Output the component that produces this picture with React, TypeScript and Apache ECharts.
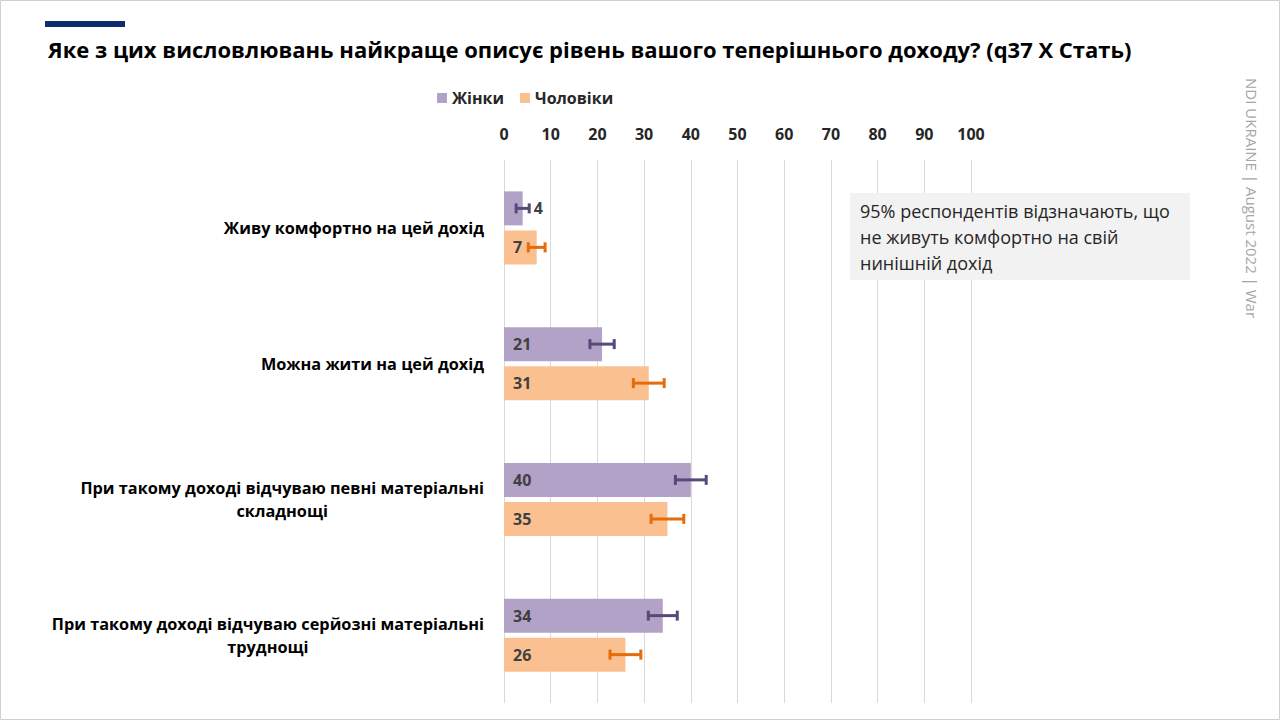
import React, { useEffect, useRef } from "react";
import * as echarts from "echarts";

const categories = [
  "Живу комфортно на цей дохід",
  "Можна жити на цей дохід",
  "При такому доході відчуваю певні матеріальні\nскладнощі",
  "При такому доході відчуваю серйозні матеріальні\nтруднощі",
];
const seriesNames = ["Жінки", "Чоловіки"];
const women = [4, 21, 40, 34];
const men = [7, 31, 35, 26];
const womenErr = [1.4, 2.6, 3.3, 3.1];
const menErr = [1.8, 3.3, 3.5, 3.3];
const xTicks = { min: 0, max: 100, interval: 10 };

const titleText =
  "Яке з цих висловлювань найкраще описує рівень вашого теперішнього доходу? (q37 X Стать)";
const noteLines = [
  "95% респондентів відзначають, що",
  "не живуть комфортно на свій",
  "нинішній дохід",
];
const sideText = "NDI UKRAINE | August 2022 | War";

const FONT = "'Open Sans', 'Noto Sans', sans-serif";
const BAR_W = 34;
const BAR_GAP = 5;

export default function App() {
  const ref = useRef<HTMLDivElement>(null);
  useEffect(() => {
    if (!ref.current) return;
    const chart = echarts.init(ref.current, undefined, { renderer: "svg" });

    const errSeries = (vals: number[], errs: number[], offset: number, color: string, lw: number) => ({
      type: "custom",
      silent: true,
      z: 5,
      data: vals.map((v, i) => [i, v, errs[i]]),
      renderItem: (params: any, api: any) => {
        const i = api.value(0);
        const v = api.value(1);
        const e = api.value(2);
        const p1 = api.coord([v - e, i]);
        const p2 = api.coord([v + e, i]);
        const y = p1[1] + offset;
        const cap = 5;
        const style = { stroke: color, lineWidth: lw };
        return {
          type: "group",
          children: [
            { type: "line", shape: { x1: p1[0], y1: y, x2: p2[0], y2: y }, style },
            { type: "line", shape: { x1: p1[0], y1: y - cap, x2: p1[0], y2: y + cap }, style },
            { type: "line", shape: { x1: p2[0], y1: y - cap, x2: p2[0], y2: y + cap }, style },
          ],
        };
      },
    });

    const barLabel = {
      show: true,
      position: "insideLeft",
      distance: 9,
      color: "#404040",
      fontWeight: "bold",
      fontSize: 16,
      fontFamily: FONT,
    };

    const mkData = (vals: number[]) =>
      vals.map((v) => (v < 5 ? { value: v, label: { position: "right", distance: 11 } } : v));

    const off = (BAR_W + BAR_GAP) / 2;

    chart.setOption({
      animation: false,
      textStyle: { fontFamily: FONT },
      title: {
        text: titleText,
        left: 43,
        top: 33,
        textStyle: { fontFamily: FONT, fontWeight: "bold", fontSize: 22, color: "#000" },
      },
      legend: {
        data: seriesNames,
        left: 432,
        top: 85,
        icon: "rect",
        itemWidth: 10,
        itemHeight: 10,
        itemGap: 16,
        textStyle: { fontFamily: FONT, fontWeight: "bold", fontSize: 16, color: "#262626" },
      },
      grid: { left: 504, right: 309, top: 160, bottom: 17 },
      xAxis: {
        type: "value",
        position: "top",
        min: xTicks.min,
        max: xTicks.max,
        interval: xTicks.interval,
        axisLine: { show: false },
        axisTick: { show: false },
        axisLabel: {
          margin: 18,
          color: "#262626",
          fontWeight: "bold",
          fontSize: 16,
          fontFamily: FONT,
        },
        splitLine: { show: true, lineStyle: { color: "#d9d9d9", width: 1 } },
      },
      yAxis: {
        type: "category",
        inverse: true,
        data: categories,
        axisLine: { show: false },
        axisTick: { show: false },
        axisLabel: {
          margin: 20,
          align: "right",
          formatter: (val: string) =>
            val
              .split("\n")
              .map((l) => `{c|${l}}`)
              .join("\n"),
          rich: {
            c: {
              align: "center",
              fontWeight: "bold",
              fontSize: 16.3,
              lineHeight: 23,
              color: "#000",
              fontFamily: FONT,
            },
          },
        },
      },
      series: [
        {
          name: seriesNames[0],
          type: "bar",
          data: mkData(women),
          barWidth: BAR_W,
          barGap: `${(BAR_GAP / BAR_W) * 100}%`,
          itemStyle: { color: "#b3a2c7" },
          label: barLabel,
        },
        {
          name: seriesNames[1],
          type: "bar",
          data: mkData(men),
          barWidth: BAR_W,
          barGap: `${(BAR_GAP / BAR_W) * 100}%`,
          itemStyle: { color: "#fac090" },
          label: barLabel,
        },
        errSeries(women, womenErr, -off, "#574a7a", 3),
        errSeries(men, menErr, off, "#e46c0a", 3),
      ],
      graphic: [
        {
          type: "rect",
          shape: { x: 0.5, y: 0.5, width: 1279, height: 719 },
          style: { fill: "none", stroke: "#d0d0d0", lineWidth: 1 },
          silent: true,
        },
        {
          type: "rect",
          shape: { x: 45, y: 21, width: 80, height: 6 },
          style: { fill: "#0b2d6b" },
        },
        {
          type: "rect",
          shape: { x: 850, y: 193, width: 340, height: 87 },
          style: { fill: "#f2f2f2" },
          z: 10,
        },
        {
          type: "text",
          x: 860,
          y: 198,
          z: 11,
          style: {
            text: noteLines.join("\n"),
            fontFamily: FONT,
            fontSize: 18,
            lineHeight: 26,
            fill: "#262626",
          },
        },
        {
          type: "text",
          x: 1252,
          y: 78,
          rotation: -Math.PI / 2,
          style: {
            text: sideText,
            fontFamily: FONT,
            fontSize: 15,
            fill: "#a6a6a6",
            align: "left",
            verticalAlign: "middle",
          },
        },
      ],
    });
    return () => chart.dispose();
  }, []);
  return (
    <div
      ref={ref}
      style={{ position: "fixed", left: 0, top: 0, width: 1280, height: 720, background: "#fff" }}
    />
  );
}
